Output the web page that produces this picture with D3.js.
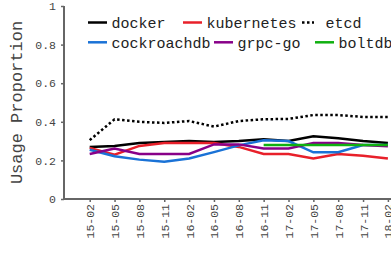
<!DOCTYPE html>
<html><head><meta charset="utf-8">
<script src="https://cdn.jsdelivr.net/npm/d3@7"></script>
<style>html,body{margin:0;padding:0;background:#fff;overflow:hidden}</style>
</head><body>
<svg id="c" width="391" height="258"></svg>
<script>
const categories = ["15-02","15-05","15-08","15-11","16-02","16-05","16-08","16-11","17-02","17-05","17-08","17-11","18-02"];
const docker      = [0.27,0.275,0.29,0.295,0.30,0.295,0.30,0.31,0.30,0.325,0.315,0.30,0.29];
const kubernetes  = [0.265,0.23,0.275,0.29,0.29,0.29,0.27,0.233,0.233,0.21,0.233,0.224,0.21];
const etcd        = [0.305,0.413,0.40,0.394,0.404,0.375,0.404,0.413,0.415,0.435,0.435,0.425,0.425];
const cockroachdb = [0.255,0.222,0.204,0.193,0.21,0.243,0.278,0.304,0.30,0.242,0.242,0.28,0.28];
const grpcgo      = [0.233,0.262,0.233,0.233,0.233,0.283,0.283,0.262,0.262,0.29,0.29,0.28,0.273];
const boltdb      = [null,null,null,null,null,null,null,0.28,0.28,0.28,0.28,0.28,0.28];
const yTicks = [0,0.2,0.4,0.6,0.8,1];
const yTickLabels = ["0","0.2","0.4","0.6","0.8","1"];

const series = [
  {name:"docker", values:docker, color:"#000000", dash:null},
  {name:"kubernetes", values:kubernetes, color:"#e8202a", dash:null},
  {name:"etcd", values:etcd, color:"#000000", dash:"2.5,2.5"},
  {name:"cockroachdb", values:cockroachdb, color:"#1a72d6", dash:null},
  {name:"grpc-go", values:grpcgo, color:"#880088", dash:null},
  {name:"boltdb", values:boltdb, color:"#10b010", dash:null}
];

const FONT = "'Courier New', 'Liberation Mono', monospace";
const svg = d3.select("#c");
const x = d3.scaleLinear().domain([-1, categories.length]).range([64.85, 64.85 + 14*24.85]);
const y = d3.scaleLinear().domain([0,1]).range([199, 6]);
const axisColor = "#666";

// y axis
const yAxis = svg.append("g").attr("transform","translate(64,0)")
  .call(d3.axisLeft(y).tickValues(yTicks).tickFormat((d,i)=>yTickLabels[i]).tickSize(3).tickPadding(5));
yAxis.select(".domain").attr("stroke",axisColor).attr("stroke-width",2).attr("d","M0,"+y(1)+"V"+y(0));
yAxis.selectAll(".tick line").attr("stroke",axisColor).attr("stroke-width",1.5);
yAxis.selectAll(".tick text").attr("font-family",FONT).attr("font-size","11.5px").attr("fill","#444");

// x axis
const xAxis = svg.append("g").attr("transform","translate(0,199)")
  .call(d3.axisBottom(x).tickValues(d3.range(categories.length)).tickFormat(i=>categories[i]).tickSize(3).tickPadding(3));
xAxis.select(".domain").attr("stroke",axisColor).attr("stroke-width",2).attr("d","M63,0H391");
xAxis.selectAll(".tick line").attr("stroke",axisColor).attr("stroke-width",1.5);
xAxis.selectAll(".tick text").attr("font-family",FONT).attr("font-size","11.5px").attr("fill","#444")
  .attr("transform","rotate(-90)").attr("text-anchor","end").attr("x",-5).attr("y",0).attr("dy","0.35em");

// y label
svg.append("text").attr("transform","translate(22,102.5) rotate(-90)")
  .attr("text-anchor","middle").attr("font-family",FONT).attr("font-size","17px").attr("fill","#444")
  .text("Usage Proportion");

// lines
const line = d3.line().defined(d=>d!=null).x((d,i)=>x(i)).y(d=>y(d));
series.forEach(s=>{
  svg.append("path").datum(s.values).attr("d",line).attr("fill","none")
    .attr("stroke",s.color).attr("stroke-width",2.5)
    .attr("stroke-dasharray",s.dash);
});

// legend
const legendPos = [
  {lx:88, ly:22.5}, {lx:183, ly:22.5}, {lx:302, ly:22.5},
  {lx:88, ly:42.3}, {lx:214, ly:42.3}, {lx:315, ly:42.3}
];
series.forEach((s,i)=>{
  const p = legendPos[i];
  svg.append("line").attr("x1",p.lx).attr("x2",p.lx+(s.dash?12:19)).attr("y1",p.ly).attr("y2",p.ly)
    .attr("stroke",s.color).attr("stroke-width",2.5).attr("stroke-dasharray",s.dash);
  svg.append("text").attr("x",p.lx+(s.dash?23.5:23.5)).attr("y",p.ly).attr("dy","0.35em")
    .attr("font-family",FONT).attr("font-size","15px").attr("fill","#222").text(s.name);
});
</script>
</body></html>
